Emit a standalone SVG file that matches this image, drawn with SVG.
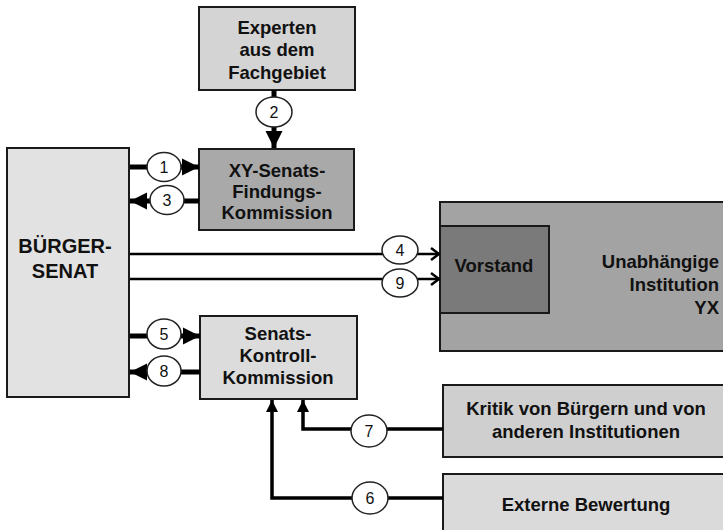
<svg xmlns="http://www.w3.org/2000/svg" width="723" height="530" viewBox="0 0 723 530">
<style>
.box{stroke:#1a1a1a;stroke-width:2}
.t{font-family:"Liberation Sans",Arial,sans-serif;font-weight:bold;fill:#111;text-anchor:middle;font-size:18.5px}
.r{text-anchor:end}
.n{font-family:"Liberation Sans",Arial,sans-serif;fill:#111;text-anchor:middle;font-size:16px}
.thick{stroke:#000;stroke-width:5;fill:none}
.thin{stroke:#000;stroke-width:2.5;fill:none}
.med{stroke:#000;stroke-width:3.5;fill:none}
.c{fill:#fff;stroke:#222;stroke-width:1.5}
</style>
<defs>
<marker id="solid" viewBox="0 0 10 10" refX="10" refY="5" markerWidth="17" markerHeight="18" markerUnits="userSpaceOnUse" orient="auto">
<path d="M0,0 L10,5 L0,10 z" fill="#000"/>
</marker>
<marker id="solidv" viewBox="0 0 10 10" refX="10" refY="5" markerWidth="12" markerHeight="12" markerUnits="userSpaceOnUse" orient="auto">
<path d="M0,0 L10,5 L0,10 z" fill="#000"/>
</marker>
<marker id="open" viewBox="0 0 10 14" refX="9" refY="7" markerWidth="10" markerHeight="14" markerUnits="userSpaceOnUse" orient="auto">
<path d="M1,1 L9,7 L1,13" fill="none" stroke="#000" stroke-width="2.5"/>
</marker>
</defs>

<g id="experten">
<rect class="box" x="199" y="7" width="156" height="83" fill="#d4d4d4"/>
<text class="t" x="277" y="34">Experten</text>
<text class="t" x="277" y="56">aus dem</text>
<text class="t" x="277" y="79">Fachgebiet</text>
</g>

<g id="xy-kommission">
<rect class="box" x="199" y="149" width="155" height="81" fill="#a9a9a9"/>
<text class="t" x="277" y="177">XY-Senats-</text>
<text class="t" x="277" y="198">Findungs-</text>
<text class="t" x="277" y="219">Kommission</text>
</g>

<g id="buerger-senat">
<rect class="box" x="7" y="148" width="122" height="249" fill="#e2e2e2"/>
<text class="t" style="font-size:20px" x="65" y="253">BÜRGER-</text>
<text class="t" style="font-size:20px" x="65" y="278">SENAT</text>
</g>

<g id="institution">
<rect class="box" x="440" y="202" width="290" height="149" fill="#a3a3a3"/>
<text class="t r" x="719" y="268">Unabhängige</text>
<text class="t r" x="719" y="291">Institution</text>
<text class="t r" x="719" y="314">YX</text>
</g>

<g id="vorstand">
<rect class="box" x="440" y="226" width="109" height="87" fill="#7a7a7a"/>
<text class="t" x="494" y="272">Vorstand</text>
</g>

<g id="kontroll-kommission">
<rect class="box" x="200" y="316" width="157" height="83" fill="#dcdcdc"/>
<text class="t" x="278" y="340">Senats-</text>
<text class="t" x="278" y="362">Kontroll-</text>
<text class="t" x="278" y="384">Kommission</text>
</g>

<g id="kritik">
<rect class="box" x="443" y="385" width="290" height="72" fill="#cfcfcf"/>
<text class="t" x="586" y="415">Kritik von Bürgern und von</text>
<text class="t" x="586" y="438">anderen Institutionen</text>
</g>

<g id="externe">
<rect class="box" x="443" y="474" width="290" height="70" fill="#dadada"/>
<text class="t" x="586" y="511">Externe Bewertung</text>
</g>

<g id="connectors">
<line class="thick" x1="274" y1="90" x2="274" y2="148" marker-end="url(#solid)"/>
<ellipse class="c" cx="274" cy="112" rx="18" ry="15"/>
<text class="n" x="274" y="118">2</text>

<line class="thick" x1="130" y1="167" x2="199" y2="167" marker-end="url(#solid)"/>
<ellipse class="c" cx="164" cy="167" rx="17" ry="14.5"/>
<text class="n" x="164" y="173">1</text>

<line class="thick" x1="199" y1="201" x2="130" y2="201" marker-end="url(#solid)"/>
<ellipse class="c" cx="167" cy="200" rx="17" ry="14.5"/>
<text class="n" x="167" y="206">3</text>

<line class="thin" x1="130" y1="254" x2="439" y2="254" marker-end="url(#open)"/>
<ellipse class="c" cx="400" cy="250" rx="18" ry="14"/>
<text class="n" x="400" y="256">4</text>

<line class="thin" x1="130" y1="279" x2="439" y2="279" marker-end="url(#open)"/>
<ellipse class="c" cx="400" cy="283" rx="18" ry="14"/>
<text class="n" x="400" y="289">9</text>

<line class="thick" x1="130" y1="336" x2="200" y2="336" marker-end="url(#solid)"/>
<ellipse class="c" cx="164" cy="334" rx="17" ry="15"/>
<text class="n" x="164" y="340">5</text>

<line class="thick" x1="200" y1="372" x2="130" y2="372" marker-end="url(#solid)"/>
<ellipse class="c" cx="164" cy="371" rx="17" ry="15"/>
<text class="n" x="164" y="377">8</text>

<polyline class="med" points="443,429 303,429 303,400" marker-end="url(#solidv)"/>
<ellipse class="c" cx="369" cy="431" rx="18" ry="16"/>
<text class="n" x="369" y="437">7</text>

<polyline class="med" points="443,498 272,498 272,400" marker-end="url(#solidv)"/>
<ellipse class="c" cx="370" cy="498" rx="18" ry="16"/>
<text class="n" x="370" y="504">6</text>
</g>
</svg>
